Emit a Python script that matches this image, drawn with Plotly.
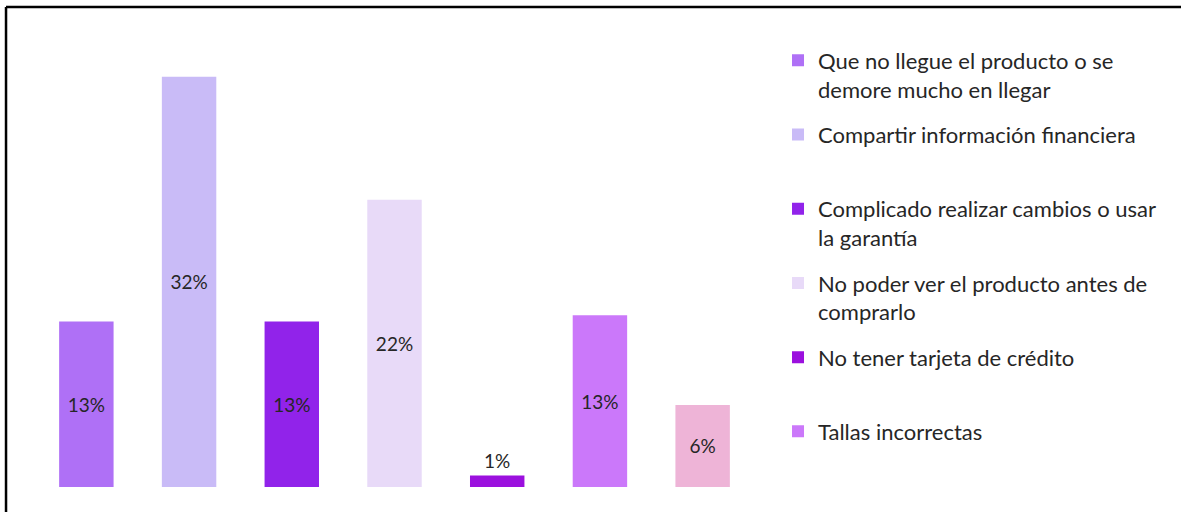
import plotly.graph_objects as go

# categories (legend labels); the last one is not shown in the legend
categories = [
    "Que no llegue el producto o se<br>demore mucho en llegar",
    "Compartir información financiera<br> ",
    "Complicado realizar cambios o usar<br>la garantía",
    "No poder ver el producto antes de<br>comprarlo",
    "No tener tarjeta de crédito<br> ",
    "Tallas incorrectas<br> ",
    "Otros",
]
values = [12.9, 32.0, 12.9, 22.4, 0.9, 13.4, 6.4]
colors = ["#AF70F6", "#C9BBF7", "#9123EA", "#E8DAF8", "#9B10DE", "#CB78FA", "#EEB4D7"]
in_legend = [True, True, True, True, True, True, False]

FONT = "Lato"
TEXT = "#262626"

fig = go.Figure()
for cat, val, col, leg in zip(categories, values, colors, in_legend):
    fig.add_trace(go.Bar(
        x=[cat], y=[val], name=cat,
        marker=dict(color=col, line=dict(width=0)),
        texttemplate="%{y:.0f}%",
        textposition="inside" if val > 3 else "outside",
        insidetextanchor="middle",
        textfont=dict(family=FONT, size=19, color=TEXT),
        cliponaxis=False,
        showlegend=leg, legendgroup=cat,
    ))

# frame: only top and left edges are visible in the crop
fig.add_shape(type="line", xref="paper", yref="paper",
              x0=-0.0403, y0=1.0063, x1=1.6, y1=1.0063,
              line=dict(color="black", width=2.5))
fig.add_shape(type="line", xref="paper", yref="paper",
              x0=-0.0403, y0=1.0063, x1=-0.0403, y1=-0.06,
              line=dict(color="black", width=2.5))

fig.update_layout(
    width=1181, height=512,
    margin=dict(l=35, r=427, t=10, b=25),
    paper_bgcolor="white", plot_bgcolor="white",
    barmode="overlay", bargap=0.47,
    font=dict(family=FONT, size=22, color=TEXT),
    showlegend=True,
    legend=dict(
        x=1.0334, y=0.938, xanchor="left", yanchor="top",
        valign="top", tracegroupgap=14,
        font=dict(family=FONT, size=22, color=TEXT),
        bgcolor="rgba(0,0,0,0)",
    ),
    xaxis=dict(visible=False, type="category"),
    yaxis=dict(visible=False, range=[0, 37.2]),
)

# drop the default 8px page margin so the figure sits at the window's corner
fig.write_html("out.html", config={"displayModeBar": False},
               post_script="document.body.style.margin='0';")
